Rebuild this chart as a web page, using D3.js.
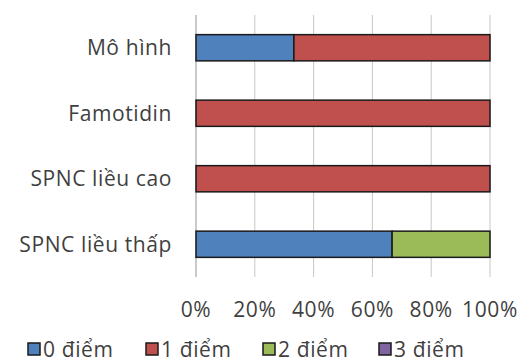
<!DOCTYPE html>
<html>
<head>
<meta charset="utf-8">
<script src="https://cdn.jsdelivr.net/npm/d3@7"></script>
<style>
  html, body { margin: 0; padding: 0; background: #fff; }
  svg text { font-family: "Open Sans", sans-serif; fill: #3f3f3f; letter-spacing: 0.6px; }
</style>
</head>
<body>
<svg id="chart" width="521" height="357"></svg>
<script>
// Groups shown on the y axis, top to bottom
const categories = ["Mô hình", "Famotidin", "SPNC liều cao", "SPNC liều thấp"];
// Score levels (stack order, left to right)
const seriesNames = ["0 điểm", "1 điểm", "2 điểm", "3 điểm"];
// Share of each score in each group (percent)
const score0 = [33.3, 0, 0, 66.7];
const score1 = [66.7, 100, 100, 0];
const score2 = [0, 0, 0, 33.3];
const score3 = [0, 0, 0, 0];
const tickValues = [0, 20, 40, 60, 80, 100];
const colors = ["#4f81bd", "#c0504d", "#9bbb59", "#8064a2"];

const svg = d3.select("#chart");
const margin = { left: 196, right: 31, top: 15, bottom: 80 };
const W = 521, H = 357;

const x = d3.scaleLinear().domain([0, 100]).range([margin.left, W - margin.right]);
const y = d3.scaleBand().domain(categories).range([margin.top, H - margin.bottom]).paddingInner(0.6).paddingOuter(0.3);

const rows = categories.map((c, i) => ({
  cat: c, "0 điểm": score0[i], "1 điểm": score1[i], "2 điểm": score2[i], "3 điểm": score3[i]
}));
const stacked = d3.stack().keys(seriesNames)(rows);

// vertical gridlines
svg.append("g").selectAll("line").data(tickValues).join("line")
  .attr("x1", d => x(d)).attr("x2", d => x(d))
  .attr("y1", margin.top).attr("y2", H - margin.bottom)
  .attr("stroke", "#c8c8c8").attr("stroke-width", 1);

// y axis baseline
svg.append("line")
  .attr("x1", x(0)).attr("x2", x(0))
  .attr("y1", margin.top).attr("y2", H - margin.bottom)
  .attr("stroke", "#b0b0b0");

// stacked bars
svg.append("g").selectAll("g").data(stacked).join("g")
  .attr("fill", (d, i) => colors[i])
  .selectAll("rect").data(d => d.filter(p => p[1] - p[0] > 0)).join("rect")
  .attr("x", d => x(d[0])).attr("width", d => x(d[1]) - x(d[0]))
  .attr("y", d => y(d.data.cat)).attr("height", y.bandwidth())
  .attr("stroke", "#1a1a1a").attr("stroke-width", 1.5);

// category labels
svg.append("g").selectAll("text").data(categories).join("text")
  .attr("x", 172).attr("y", d => y(d) + y.bandwidth() / 2)
  .attr("dy", "0.36em").attr("text-anchor", "end")
  .attr("font-size", 21).text(d => d);

// x tick labels
svg.append("g").selectAll("text").data(tickValues).join("text")
  .attr("x", d => x(d)).attr("y", 317)
  .attr("text-anchor", "middle").attr("font-size", 21)
  .text(d => d + "%");

// legend
const legendX = [28, 146, 263, 379];
const lg = svg.append("g").selectAll("g").data(seriesNames).join("g")
  .attr("transform", (d, i) => `translate(${legendX[i]},343)`);
lg.append("rect").attr("width", 12).attr("height", 12)
  .attr("fill", (d, i) => colors[i]).attr("stroke", "#1a1a1a").attr("stroke-width", 1.5);
lg.append("text").attr("x", 15).attr("y", 14).attr("font-size", 21).text(d => d);
</script>
</body>
</html>
